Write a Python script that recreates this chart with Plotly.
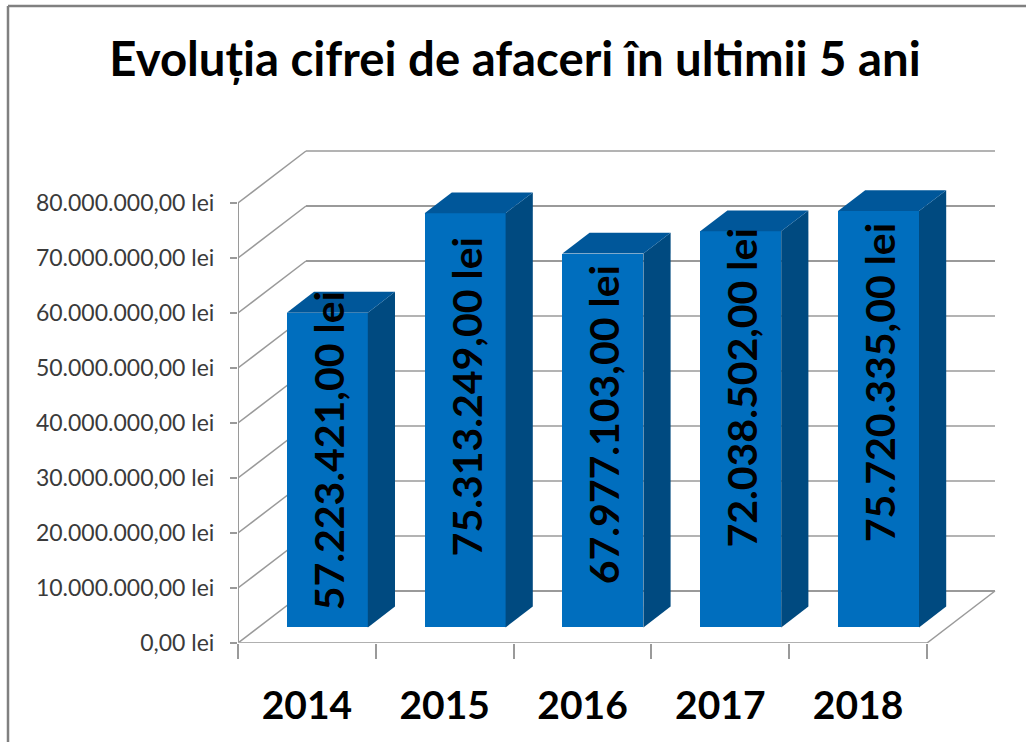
import plotly.graph_objects as go

title = "Evoluția cifrei de afaceri în ultimii 5 ani"
categories = ["2014", "2015", "2016", "2017", "2018"]
values = [57223421, 75313249, 67977103, 72038502, 75720335]
labels = ["57.223.421,00 lei", "75.313.249,00 lei", "67.977.103,00 lei", "72.038.502,00 lei", "75.720.335,00 lei"]
tick_values = [0, 10000000, 20000000, 30000000, 40000000, 50000000, 60000000, 70000000, 80000000]
tick_labels = ["0,00 lei", "10.000.000,00 lei", "20.000.000,00 lei", "30.000.000,00 lei", "40.000.000,00 lei",
               "50.000.000,00 lei", "60.000.000,00 lei", "70.000.000,00 lei", "80.000.000,00 lei"]
label_lift = [19, 23, 16, 41.5, 36.5]     # labels were placed by hand in the original (pixels above bar centre)

W, H = 1026, 742
L, R, T, B = 238, 1000, 140, 643          # pixel edges of the plotting area
PX_X = 137.8                              # pixels per category
PX_Y = 5.5 / 1e6                          # pixels per unit of value
DEPTH_X, DEPTH_Y = 68 / PX_X, 52 / PX_Y   # wall depth in axis units
BAR_W = 81 / PX_X
BAR_FRONT = 0.30                          # bar front as fraction of depth
BAR_DEPTH = 0.40

FRONT, SIDE, TOP = "#006EBE", "#004A80", "#00579A"
GRID = "#9a9a9a"
FONT = "Lato"

xs = [i + 0.5 + BAR_FRONT * DEPTH_X for i in range(5)]
base = BAR_FRONT * DEPTH_Y
ddx, ddy = BAR_DEPTH * DEPTH_X, BAR_DEPTH * DEPTH_Y

fig = go.Figure()
fig.add_bar(x=xs, y=values, base=base, width=BAR_W, marker=dict(color=FRONT, line_width=0),
            showlegend=False, hoverinfo="skip")

for x, v in zip(xs, values):
    x0, x1 = x - BAR_W / 2, x + BAR_W / 2
    top = base + v
    fig.add_scatter(x=[x1, x1 + ddx, x1 + ddx, x1, x1], y=[base, base + ddy, top + ddy, top, base],
                    mode="lines", fill="toself", fillcolor=SIDE, line=dict(width=0), showlegend=False, hoverinfo="skip")
    fig.add_scatter(x=[x0, x1, x1 + ddx, x0 + ddx, x0], y=[top, top, top + ddy, top + ddy, top],
                    mode="lines", fill="toself", fillcolor=TOP, line=dict(width=0), showlegend=False, hoverinfo="skip")

shapes = []
def seg(x0, y0, x1, y1, width=1.5, color=GRID):
    shapes.append(dict(type="line", layer="below", xref="x", yref="y", x0=x0, y0=y0, x1=x1, y1=y1,
                       line=dict(color=color, width=width)))

for t in tick_values:
    seg(0, t, DEPTH_X, t + DEPTH_Y)
    seg(DEPTH_X, t + DEPTH_Y, 5 + DEPTH_X, t + DEPTH_Y, 2 if t in (0, 60000000, 70000000) else 1.5)
seg(0, 0, 0, tick_values[-1], 2)
seg(0, 0, 5, 0, 2, "#b0b0b0")
seg(5, 0, 5 + DEPTH_X, DEPTH_Y)

# outer frame of the chart
px = lambda p: (p - L) / (R - L)
py = lambda p: (B - p) / (B - T)
for a, b, c, d in [(8, 6, 8, H), (8, 6, W, 6)]:
    shapes.append(dict(type="line", xref="paper", yref="paper", x0=px(a), y0=py(b), x1=px(c), y1=py(d),
                       line=dict(color="#808080", width=2.5)))

annotations = [dict(x=x, y=base + v / 2, yshift=lift, xshift=1, text=f"<b>{s}</b>", textangle=-90, showarrow=False,
                    font=dict(family=FONT, size=41, color="black"), xanchor="center", yanchor="middle")
               for x, v, s, lift in zip(xs, values, labels, label_lift)]

fig.update_layout(
    width=W, height=H, autosize=False, margin=dict(l=L, r=W - R, t=T, b=H - B),
    paper_bgcolor="white", plot_bgcolor="white", showlegend=False, bargap=0,
    title=dict(text=f"<b>{title}</b>", x=515 / W, xanchor="center", y=1 - 59 / H, yanchor="middle",
               font=dict(family=FONT, size=47.3, color="black")),
    shapes=shapes, annotations=annotations,
    xaxis=dict(range=[0, (R - L) / PX_X], tickvals=[i + 0.5 for i in range(5)], ticktext=categories,
               ticks="", showgrid=False, zeroline=False, showline=False, ticklabelstandoff=36,
               tickfont=dict(family=FONT, size=39, color="black", weight="bold"),
               minor=dict(tickvals=list(range(6)), ticks="outside", ticklen=15, tickwidth=2, tickcolor=GRID, showgrid=False)),
    yaxis=dict(range=[0, (B - T) / PX_Y], tickvals=tick_values, ticktext=tick_labels,
               ticks="outside", ticklen=7, tickwidth=2, tickcolor=GRID, showgrid=False, zeroline=False,
               showline=False, ticklabelstandoff=11, tickfont=dict(family=FONT, size=23, color="#3a3a3a")),
)

fig.write_html("out.html", post_script="document.body.style.margin='0';document.body.style.overflow='hidden';",
               config=dict(displayModeBar=False))
